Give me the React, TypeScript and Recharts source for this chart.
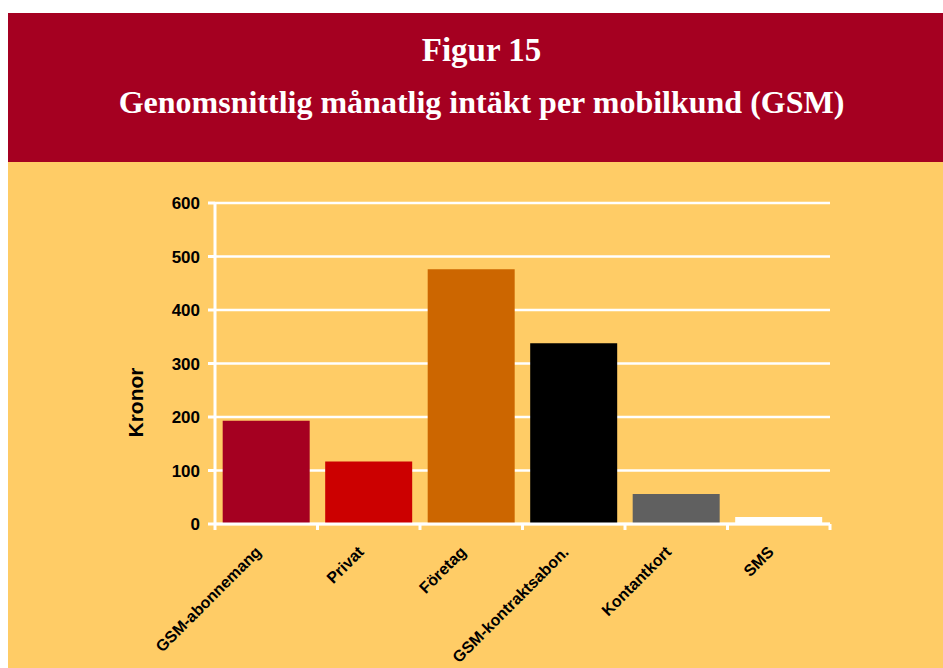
import React from 'react';
import { BarChart, Bar, Cell, XAxis, YAxis, CartesianGrid, Label } from 'recharts';

const categories = ['GSM-abonnemang', 'Privat', 'Företag', 'GSM-kontraktsabon.', 'Kontantkort', 'SMS'];
const revenue = [193, 117, 476, 338, 56, 13];
const barColors = ['#A50021', '#CC0000', '#CC6600', '#000000', '#606060', '#FFFFFF'];
const yTicks = [0, 100, 200, 300, 400, 500, 600];

const data = categories.map((name, i) => ({ name, value: revenue[i] }));

const AXIS_FONT = '"Liberation Sans", Arial, sans-serif';

// category labels sit at 45 deg, tick marks go on the band edges
function CategoryTick(props: any) {
  const { x, y, payload, index } = props;
  const half = payload?.offset || 51.25;
  const axisY = y - 8;
  return (
    <g>
      <line x1={x - half} x2={x - half} y1={axisY} y2={axisY + 6} stroke="#fff" strokeWidth={3} />
      {index === categories.length - 1 && (
        <line x1={x + half} x2={x + half} y1={axisY} y2={axisY + 6} stroke="#fff" strokeWidth={3} />
      )}
      <g transform={`translate(${x - 4},${y + 21})`}>
        <text
          textAnchor="end"
          transform="rotate(-45)"
          fontFamily={AXIS_FONT}
          fontWeight="bold"
          fontSize={16}
          fill="#000"
        >
          {payload.value}
        </text>
      </g>
    </g>
  );
}

function KronorLabel(props: any) {
  const vb = props.viewBox || { x: 0, y: 0, width: 0, height: 0 };
  const cx = vb.x + vb.width - 80;
  const cy = vb.y + vb.height / 2 + 39;
  return (
    <text
      x={cx}
      y={cy}
      transform={`rotate(-90, ${cx}, ${cy})`}
      textAnchor="middle"
      dominantBaseline="central"
      fontFamily={AXIS_FONT}
      fontWeight="bold"
      fontSize={21}
      fill="#000"
    >
      Kronor
    </text>
  );
}

export default function App() {
  return (
    <div style={{ position: 'fixed', left: 8, top: 13, right: 0, bottom: 0, background: '#FFCC66' }}>
      <div
        style={{
          height: 149,
          background: '#A50021',
          color: '#fff',
          fontFamily: '"Liberation Serif", "Times New Roman", serif',
          fontWeight: 'bold',
          textAlign: 'center',
          paddingLeft: 12,
          boxSizing: 'border-box',
        }}
      >
        <div style={{ fontSize: 33, lineHeight: '33px', paddingTop: 21 }}>Figur 15</div>
        <div style={{ fontSize: 32, lineHeight: '32px', marginTop: 19 }}>
          Genomsnittlig månatlig intäkt per mobilkund (GSM)
        </div>
      </div>
      <BarChart
        width={935}
        height={506}
        data={data}
        margin={{ top: 41, right: 113, bottom: 44, left: 87 }}
        barCategoryGap="7.5%"
      >
        <CartesianGrid vertical={false} stroke="#fff" strokeWidth={2.5} />
        <XAxis
          dataKey="name"
          axisLine={{ stroke: '#fff', strokeWidth: 3 }}
          tickLine={false}
          tickSize={6}
          tickMargin={2}
          interval={0}
          height={100}
          tick={<CategoryTick />}
        />
        <YAxis
          domain={[0, 600]}
          ticks={yTicks}
          width={120}
          axisLine={{ stroke: '#fff', strokeWidth: 3 }}
          tickLine={{ stroke: '#fff', strokeWidth: 3 }}
          tickSize={7}
          tickMargin={8}
          tick={{ fill: '#000', fontFamily: AXIS_FONT, fontWeight: 'bold', fontSize: 17 }}
        >
          <Label content={<KronorLabel />} />
        </YAxis>
        <Bar dataKey="value" isAnimationActive={false}>
          {data.map((d, i) => (
            <Cell key={d.name} fill={barColors[i]} />
          ))}
        </Bar>
      </BarChart>
    </div>
  );
}
